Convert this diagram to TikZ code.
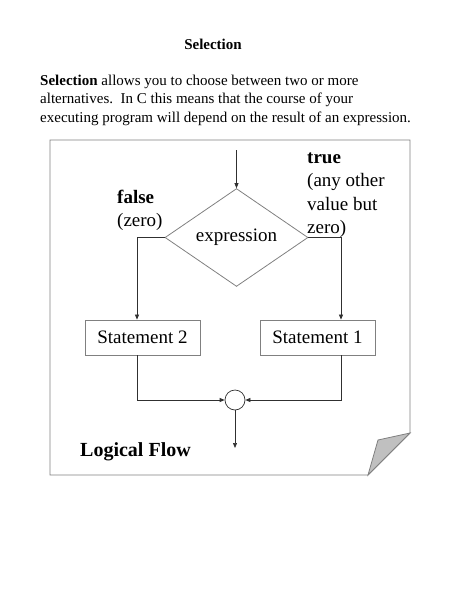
\documentclass[tikz,border=0pt]{standalone}
\usepackage{fontspec}
\setmainfont{Liberation Serif}
\usetikzlibrary{shapes.geometric,arrows.meta}
\definecolor{edge}{HTML}{808080}
\definecolor{ink}{HTML}{303030}
\definecolor{foldfill}{HTML}{C0C0C0}
\begin{document}
\begin{tikzpicture}[x=1pt,y=-1pt,
  txt/.style={inner sep=0pt,font=\fontsize{15}{18.5}\selectfont},
  lab/.style={inner sep=0pt,align=left,font=\fontsize{19}{23.3}\selectfont},
  box/.style={draw=edge,line width=0.8pt,minimum width=115pt,minimum height=35pt,inner sep=0pt,font=\fontsize{19}{22}\selectfont},
  flow/.style={draw=ink,line width=0.7pt,-{Triangle[length=5pt,width=4pt]}},
  line/.style={draw=ink,line width=0.7pt}]
\useasboundingbox (0,0) rectangle (450,600);
% header
\node[txt,anchor=base,font=\bfseries\fontsize{15}{18}\selectfont] (title) at (213,49) {Selection};
\node[txt,anchor=base west] (p1) at (40,85) {\textbf{Selection} allows you to choose between two or more};
\node[txt,anchor=base west] (p2) at (40,103.5) {alternatives.\ \ In C this means that the course of your};
\node[txt,anchor=base west] (p3) at (40,122) {executing program will depend on the result of an expression.};
% page
\draw[edge,line width=0.9pt] (50,140) -- (410,140) -- (410,433) -- (368,475) -- (50,475) -- cycle;
\filldraw[draw=edge,fill=foldfill,line width=0.8pt] (410,433) -- (378,440) -- (368,475) -- cycle;
% nodes
\node[diamond,draw=edge,line width=0.8pt,minimum width=143pt,minimum height=86pt,inner sep=0pt,font=\fontsize{19}{22}\selectfont] (d) at (236.5,237.5) {expression};
\node[box] (s2) at (142.5,337.5) {Statement 2};
\node[box] (s1) at (317.5,337.5) {Statement 1};
\node[circle,draw=ink,line width=0.7pt,minimum size=20pt,inner sep=0pt] (c) at (235,400) {};
\coordinate (in) at (236.5,150);
\coordinate (out) at (235,448);
\coordinate (lx) at (137,0);
\coordinate (rx) at (341,0);
% labels
\node[lab,anchor=north west] (tl) at (307,152.5) {\textbf{true}\\(any other\\value but\\zero)};
\node[lab,anchor=north west] (fl) at (117,190) {\textbf{false}\\(zero)};
\node[inner sep=0pt,anchor=base west,font=\bfseries\fontsize{20}{24}\selectfont] (lf) at (80,456) {Logical Flow};
% connectors
\draw[flow] (in) -- (d.north);
\draw[flow] (d.west) -- (lx |- d.west) -- (lx |- s2.north);
\draw[flow] (d.east) -- (rx |- d.east) -- (rx |- s1.north);
\draw[flow] (lx |- s2.south) -- (lx |- c.west) -- (c.west);
\draw[flow] (rx |- s1.south) -- (rx |- c.east) -- (c.east);
\draw[flow] (c.south) -- (out);
\end{tikzpicture}
\end{document}
